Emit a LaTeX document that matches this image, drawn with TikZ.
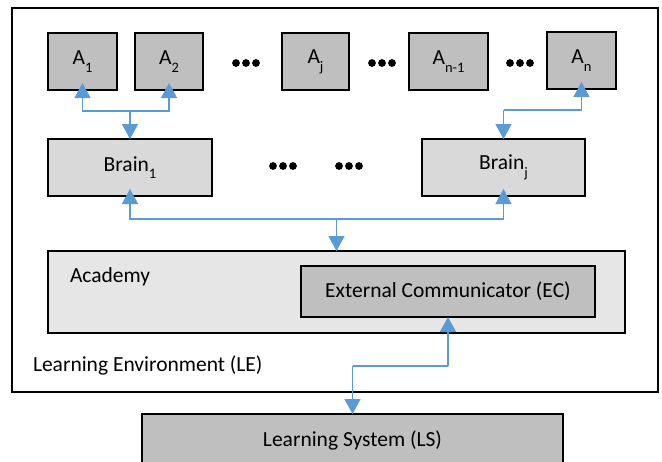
\documentclass[tikz,border=0pt]{standalone}
\usepackage{fontspec}
\setmainfont{Carlito}
\usetikzlibrary{arrows.meta}
\definecolor{boxdark}{RGB}{191,191,191}
\definecolor{boxmid}{RGB}{217,217,217}
\definecolor{boxlight}{RGB}{231,230,230}
\definecolor{arrblue}{RGB}{91,155,213}
\newcommand\sbs[1]{\raisebox{-0.36em}{\fontsize{14.5}{15}\selectfont #1}}
\tikzset{
  box/.style={draw, line width=1.8pt, inner sep=0pt, outer sep=0pt, anchor=north west, align=center},
  dk/.style={box, fill=boxdark},
  md/.style={box, fill=boxmid},
  conn/.style={draw=arrblue, line width=1.4pt},
  tip/.style={-{Triangle[width=16pt,length=15pt]}},
  uptip/.style={tip, shorten >=-7pt},
  lbl/.style={inner sep=0pt, outer sep=0pt},
}
\begin{document}
\begin{tikzpicture}[x=1pt,y=-1pt, font=\fontsize{21.5}{24}\selectfont]
\useasboundingbox (0,0) rectangle (662,461);
% outer environment
\node[box, minimum width=646pt, minimum height=384pt] (le) at (12,8) {};
\node[lbl, anchor=base west] (lelbl) at (33,371) {Learning Environment (LE)};
% agents
\node[dk, minimum width=69pt, minimum height=57pt] (a1) at (48,33) {A\sbs{1}};
\node[dk, minimum width=68pt, minimum height=57pt] (a2) at (135,33) {A\sbs{2}};
\node[dk, minimum width=67pt, minimum height=57pt] (aj) at (282,33) {A\sbs{j}};
\node[dk, minimum width=79pt, minimum height=57pt] (an1) at (409,33) {A\sbs{n-1}};
\node[dk, minimum width=69pt, minimum height=57pt] (an) at (547,32) {A\sbs{n}};
% brains
\node[md, minimum width=164pt, minimum height=57pt] (b1) at (48,139) {Brain\sbs{1}};
\node[md, minimum width=163pt, minimum height=57pt] (bj) at (422,139) {Brain\sbs{j}};
% academy
\node[box, fill=boxlight, minimum width=577pt, minimum height=82pt] (acad) at (48,251) {};
\node[lbl, anchor=base west] (acadlbl) at (70,282) {Academy};
\node[dk, minimum width=294pt, minimum height=51pt] (ec) at (301,266) {External Communicator (EC)};
% learning system
\node[dk, minimum width=421pt, minimum height=62pt] (ls) at (142,414) {};
\node[lbl] (lslbl) at (352.5,440) {Learning System (LS)};
% dots
\foreach \cx/\cy in {246/63, 382/63, 520/63, 283/166, 349/166}{
  \foreach \d in {-10,0,10}{\fill (\cx+\d,\cy) circle (3.9pt);}
}
% connectors
\coordinate (j1) at (130,111);
\coordinate (j2) at (503.5,110);
\coordinate (j3) at (336.5,219);
\coordinate (j4) at (448,366);
\coordinate (j5) at (352.5,366);
\draw[conn, uptip] (j1) -| (a1.south);
\draw[conn, uptip] (j1) -| (a2.south);
\draw[conn, tip] (j1) -- (b1.north);
\draw[conn, uptip] (j2) -| (an.south);
\draw[conn, tip] (j2) -- (bj.north);
\draw[conn, uptip] (j3) -| (b1.south);
\draw[conn, uptip] (j3) -| (bj.south);
\draw[conn, tip] (j3) -- (acad.north);
\draw[conn, tip] (j4) -- (ec.south);
\draw[conn] (j4) -- (j5);
\draw[conn, tip] (j5) -- (ls.north);
\end{tikzpicture}
\end{document}
